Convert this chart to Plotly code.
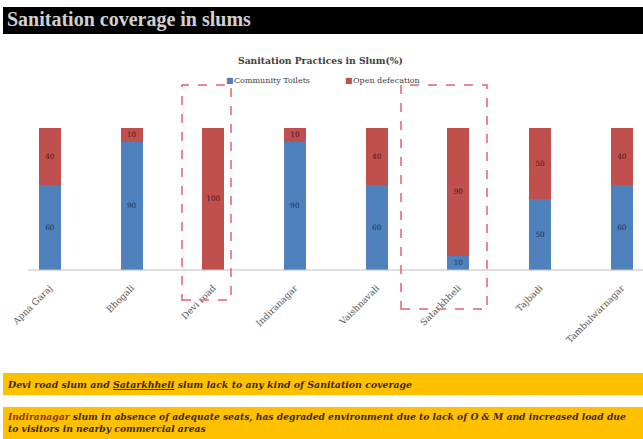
import plotly.graph_objects as go

categories = ["Apna Garaj", "Bhogali", "Devi road", "Indiranagar", "Vaishnavali",
              "Satarkhheli", "Tajbadi", "Tambulwarnagar"]
community_toilets = [60, 90, 0, 90, 60, 10, 50, 60]
open_defecation = [40, 10, 100, 10, 40, 90, 50, 40]
series_names = ["Community Toilets", "Open defecation"]
series_colors = ["#4F81BD", "#C0504D"]

W, H = 643, 439
L, R, T, B = 9, 0, 128, 169
PW, PH = W - L - R, H - T - B


def px(x):
    return (x - L) / PW


def py(y):
    return (H - B - y) / PH


fig = go.Figure()
for vals, name, col, tcol in [(community_toilets, series_names[0], series_colors[0], "#1f2f4f"),
                              (open_defecation, series_names[1], series_colors[1], "#4a1616")]:
    fig.add_trace(go.Bar(
        x=categories, y=vals, name=name,
        marker=dict(color=col, line=dict(width=0)),
        text=[str(v) for v in vals], textposition="inside",
        insidetextanchor="middle", textangle=0,
        textfont=dict(size=8, color=tcol, family="DejaVu Serif"),
        width=0.27, showlegend=False,
    ))

shapes = []
shapes.append(dict(type="rect", xref="paper", yref="paper", x0=px(3), x1=px(643),
                   y0=py(34), y1=py(7), fillcolor="black", line=dict(width=0), layer="below"))
shapes.append(dict(type="rect", xref="paper", yref="paper", x0=px(3), x1=px(643),
                   y0=py(395), y1=py(373), fillcolor="#FFC000", line=dict(width=0), layer="below"))
shapes.append(dict(type="rect", xref="paper", yref="paper", x0=px(3), x1=px(643),
                   y0=py(440), y1=py(407), fillcolor="#FFC000", line=dict(width=0), layer="below"))
shapes.append(dict(type="line", xref="paper", yref="paper", x0=px(28), x1=px(643),
                   y0=py(270), y1=py(270), line=dict(color="#BFBFBF", width=1)))
for (x0, x1, y0, y1) in [(182, 231, 85, 300), (401, 487, 85, 309)]:
    shapes.append(dict(type="rect", xref="paper", yref="paper", x0=px(x0), x1=px(x1),
                       y0=py(y1), y1=py(y0), line=dict(color="#E8606E", width=1.5, dash="dash"),
                       fillcolor="rgba(0,0,0,0)"))

annotations = [
    dict(text="<b>Sanitation coverage in slums</b>", xref="paper", yref="paper", x=px(5), y=py(20),
         xanchor="left", yanchor="middle", showarrow=False,
         font=dict(size=20, color="#d0d0d0", family="Liberation Serif")),
    dict(text="<b>Sanitation Practices in Slum(%)</b>", xref="paper", yref="paper", x=px(320), y=py(60),
         xanchor="center", yanchor="middle", showarrow=False,
         font=dict(size=9.2, color="#404040", family="DejaVu Serif")),
    dict(text="<b><i>Devi road slum and <u>Satarkhheli</u> slum lack to any kind of Sanitation coverage</i></b>",
         xref="paper", yref="paper", x=px(5), y=py(384), xanchor="left", yanchor="middle",
         showarrow=False, font=dict(size=9.4, color="#3a2a00", family="DejaVu Serif")),
    dict(text="<b><i><span style='color:#8a3a00'>Indiranagar</span> slum in absence of adequate seats, has degraded environment due to lack of O &amp; M and increased load due<br>to visitors in nearby commercial areas</i></b>",
         xref="paper", yref="paper", x=px(5), y=py(423), xanchor="left", yanchor="middle",
         align="left", showarrow=False,
         font=dict(size=9.2, color="#3a2a00", family="DejaVu Serif")),
]
for name, col, lx in zip(series_names, series_colors, [224, 343]):
    annotations.append(dict(text="■", xref="paper", yref="paper", x=px(lx), y=py(80),
                            xanchor="left", yanchor="middle", showarrow=False,
                            font=dict(size=8, color=col, family="DejaVu Sans")))
    annotations.append(dict(text=name, xref="paper", yref="paper", x=px(lx + 8), y=py(80),
                            xanchor="left", yanchor="middle", showarrow=False,
                            font=dict(size=8, color="#404040", family="DejaVu Serif")))

fig.update_layout(
    width=W, height=H,
    margin=dict(l=L, r=R, t=T, b=B, pad=0),
    paper_bgcolor="white", plot_bgcolor="white",
    barmode="stack",
    showlegend=False,
    xaxis=dict(range=[-0.5, 7.26], tickangle=-45, showline=False, showgrid=False, ticks="",
               ticklabelstandoff=10,
               tickfont=dict(size=9, color="#595959", family="DejaVu Serif")),
    yaxis=dict(range=[0, 100], visible=False, showgrid=False),
    shapes=shapes,
    annotations=annotations,
    uniformtext=dict(minsize=7, mode="show"),
)

fig.write_html("out.html")
